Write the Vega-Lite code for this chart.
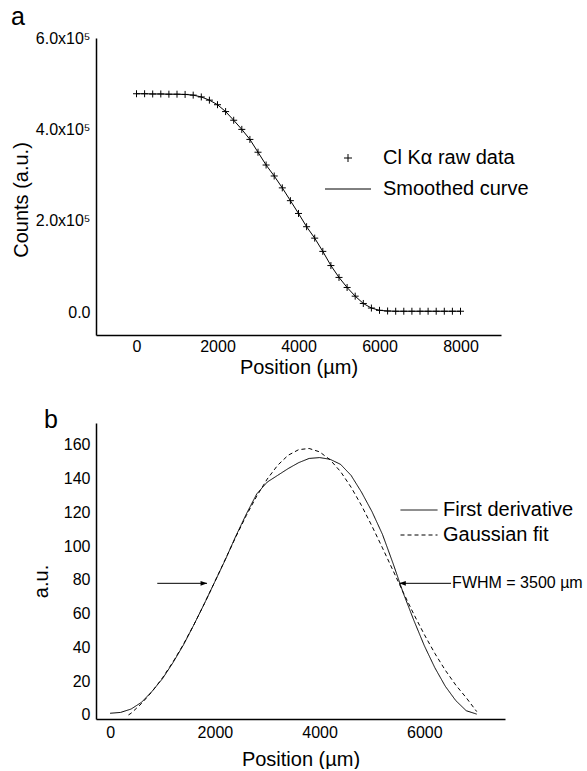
{
  "$schema": "https://vega.github.io/schema/vega-lite/v6.json",
  "padding": {"left": 11, "top": 5, "right": 0, "bottom": 0},
  "background": "white",
  "config": {
    "font": "Liberation Sans",
    "view": {"stroke": null},
    "axis": {"domainColor": "black", "domainWidth": 1.5, "ticks": false, "grid": false, "labelFontSize": 16, "labelColor": "black", "titleFontSize": 20, "titleFontWeight": "normal", "titleColor": "black", "labelFont": "Liberation Sans", "titleFont": "Liberation Sans", "labelOverlap": false, "format": "d"},
    "legend": {"labelFontSize": 20, "labelColor": "black", "labelFont": "Liberation Sans"},
    "title": {"fontSize": 25, "fontWeight": "normal", "anchor": "start", "color": "black", "font": "Liberation Sans"},
    "concat": {"spacing": 31}
  },
  "resolve": {"legend": {"shape": "independent", "strokeDash": "independent"}},
  "datasets": {
    "counts": [
      {"pos": 0, "counts": 478000, "series": "Cl Kα raw data"},
      {"pos": 200, "counts": 478000, "series": "Cl Kα raw data"},
      {"pos": 400, "counts": 477500, "series": "Cl Kα raw data"},
      {"pos": 600, "counts": 477500, "series": "Cl Kα raw data"},
      {"pos": 800, "counts": 477000, "series": "Cl Kα raw data"},
      {"pos": 1000, "counts": 477000, "series": "Cl Kα raw data"},
      {"pos": 1200, "counts": 476500, "series": "Cl Kα raw data"},
      {"pos": 1400, "counts": 475000, "series": "Cl Kα raw data"},
      {"pos": 1600, "counts": 471000, "series": "Cl Kα raw data"},
      {"pos": 1800, "counts": 464000, "series": "Cl Kα raw data"},
      {"pos": 2000, "counts": 454000, "series": "Cl Kα raw data"},
      {"pos": 2200, "counts": 439000, "series": "Cl Kα raw data"},
      {"pos": 2400, "counts": 420000, "series": "Cl Kα raw data"},
      {"pos": 2600, "counts": 400000, "series": "Cl Kα raw data"},
      {"pos": 2800, "counts": 378000, "series": "Cl Kα raw data"},
      {"pos": 3000, "counts": 350000, "series": "Cl Kα raw data"},
      {"pos": 3200, "counts": 322000, "series": "Cl Kα raw data"},
      {"pos": 3400, "counts": 298000, "series": "Cl Kα raw data"},
      {"pos": 3600, "counts": 272000, "series": "Cl Kα raw data"},
      {"pos": 3800, "counts": 244000, "series": "Cl Kα raw data"},
      {"pos": 4000, "counts": 216000, "series": "Cl Kα raw data"},
      {"pos": 4200, "counts": 187000, "series": "Cl Kα raw data"},
      {"pos": 4400, "counts": 162000, "series": "Cl Kα raw data"},
      {"pos": 4600, "counts": 133000, "series": "Cl Kα raw data"},
      {"pos": 4800, "counts": 102000, "series": "Cl Kα raw data"},
      {"pos": 5000, "counts": 76000, "series": "Cl Kα raw data"},
      {"pos": 5200, "counts": 54000, "series": "Cl Kα raw data"},
      {"pos": 5400, "counts": 35000, "series": "Cl Kα raw data"},
      {"pos": 5600, "counts": 19000, "series": "Cl Kα raw data"},
      {"pos": 5800, "counts": 9000, "series": "Cl Kα raw data"},
      {"pos": 6000, "counts": 4000, "series": "Cl Kα raw data"},
      {"pos": 6200, "counts": 2500, "series": "Cl Kα raw data"},
      {"pos": 6400, "counts": 2000, "series": "Cl Kα raw data"},
      {"pos": 6600, "counts": 2000, "series": "Cl Kα raw data"},
      {"pos": 6800, "counts": 2000, "series": "Cl Kα raw data"},
      {"pos": 7000, "counts": 2000, "series": "Cl Kα raw data"},
      {"pos": 7200, "counts": 2000, "series": "Cl Kα raw data"},
      {"pos": 7400, "counts": 2000, "series": "Cl Kα raw data"},
      {"pos": 7600, "counts": 2000, "series": "Cl Kα raw data"},
      {"pos": 7800, "counts": 2000, "series": "Cl Kα raw data"},
      {"pos": 8000, "counts": 2000, "series": "Cl Kα raw data"}
    ],
    "deriv": [
      {"pos": 0, "val": 1, "series": "First derivative"},
      {"pos": 200, "val": 1.5, "series": "First derivative"},
      {"pos": 400, "val": 3.5, "series": "First derivative"},
      {"pos": 600, "val": 7.5, "series": "First derivative"},
      {"pos": 800, "val": 14, "series": "First derivative"},
      {"pos": 1000, "val": 21.5, "series": "First derivative"},
      {"pos": 1200, "val": 31, "series": "First derivative"},
      {"pos": 1400, "val": 41.5, "series": "First derivative"},
      {"pos": 1600, "val": 53.5, "series": "First derivative"},
      {"pos": 1800, "val": 66, "series": "First derivative"},
      {"pos": 2000, "val": 79, "series": "First derivative"},
      {"pos": 2200, "val": 92, "series": "First derivative"},
      {"pos": 2400, "val": 106, "series": "First derivative"},
      {"pos": 2600, "val": 119, "series": "First derivative"},
      {"pos": 2800, "val": 131, "series": "First derivative"},
      {"pos": 3000, "val": 138, "series": "First derivative"},
      {"pos": 3200, "val": 142, "series": "First derivative"},
      {"pos": 3400, "val": 146, "series": "First derivative"},
      {"pos": 3600, "val": 149.5, "series": "First derivative"},
      {"pos": 3800, "val": 152, "series": "First derivative"},
      {"pos": 4000, "val": 152.5, "series": "First derivative"},
      {"pos": 4200, "val": 151.5, "series": "First derivative"},
      {"pos": 4400, "val": 148.5, "series": "First derivative"},
      {"pos": 4600, "val": 142, "series": "First derivative"},
      {"pos": 4800, "val": 132, "series": "First derivative"},
      {"pos": 5000, "val": 120.5, "series": "First derivative"},
      {"pos": 5200, "val": 107, "series": "First derivative"},
      {"pos": 5400, "val": 90, "series": "First derivative"},
      {"pos": 5600, "val": 72, "series": "First derivative"},
      {"pos": 5800, "val": 56, "series": "First derivative"},
      {"pos": 6000, "val": 41, "series": "First derivative"},
      {"pos": 6200, "val": 28, "series": "First derivative"},
      {"pos": 6400, "val": 17, "series": "First derivative"},
      {"pos": 6600, "val": 8.5, "series": "First derivative"},
      {"pos": 6800, "val": 2.5, "series": "First derivative"},
      {"pos": 7000, "val": 0.5, "series": "First derivative"},
      {"pos": 350, "val": 0, "series": "Gaussian fit"},
      {"pos": 400, "val": 1, "series": "Gaussian fit"},
      {"pos": 600, "val": 6.8, "series": "Gaussian fit"},
      {"pos": 800, "val": 13.8, "series": "Gaussian fit"},
      {"pos": 1000, "val": 22, "series": "Gaussian fit"},
      {"pos": 1200, "val": 31.4, "series": "Gaussian fit"},
      {"pos": 1400, "val": 41.9, "series": "Gaussian fit"},
      {"pos": 1600, "val": 53.5, "series": "Gaussian fit"},
      {"pos": 1800, "val": 66, "series": "Gaussian fit"},
      {"pos": 2000, "val": 79, "series": "Gaussian fit"},
      {"pos": 2200, "val": 92.3, "series": "Gaussian fit"},
      {"pos": 2400, "val": 105.5, "series": "Gaussian fit"},
      {"pos": 2600, "val": 118.2, "series": "Gaussian fit"},
      {"pos": 2800, "val": 129.7, "series": "Gaussian fit"},
      {"pos": 3000, "val": 139.8, "series": "Gaussian fit"},
      {"pos": 3200, "val": 148, "series": "Gaussian fit"},
      {"pos": 3400, "val": 153.9, "series": "Gaussian fit"},
      {"pos": 3600, "val": 157.2, "series": "Gaussian fit"},
      {"pos": 3800, "val": 157.9, "series": "Gaussian fit"},
      {"pos": 4000, "val": 155.9, "series": "Gaussian fit"},
      {"pos": 4200, "val": 151.2, "series": "Gaussian fit"},
      {"pos": 4400, "val": 144.2, "series": "Gaussian fit"},
      {"pos": 4600, "val": 135, "series": "Gaussian fit"},
      {"pos": 4800, "val": 124.1, "series": "Gaussian fit"},
      {"pos": 5000, "val": 111.9, "series": "Gaussian fit"},
      {"pos": 5200, "val": 99, "series": "Gaussian fit"},
      {"pos": 5400, "val": 85.7, "series": "Gaussian fit"},
      {"pos": 5600, "val": 72.4, "series": "Gaussian fit"},
      {"pos": 5800, "val": 59.6, "series": "Gaussian fit"},
      {"pos": 6000, "val": 47.6, "series": "Gaussian fit"},
      {"pos": 6200, "val": 36.5, "series": "Gaussian fit"},
      {"pos": 6400, "val": 26.5, "series": "Gaussian fit"},
      {"pos": 6600, "val": 17.7, "series": "Gaussian fit"},
      {"pos": 6800, "val": 10.2, "series": "Gaussian fit"},
      {"pos": 7000, "val": 2, "series": "Gaussian fit"}
    ],
    "arrows": [
      {"from": 900, "to": 1850, "head": 1790, "val": 78, "dir": "right"},
      {"from": 6510, "to": 5520, "head": 5583, "val": 78, "dir": "left"}
    ],
    "note": [
      {"pos": 6530, "val": 78, "label": "FWHM = 3500 µm"}
    ]
  },
  "vconcat": [
    {
      "width": 405,
      "height": 297,
      "title": {"text": "a", "frame": "group", "dx": -85, "offset": 0},
      "layer": [
        {
          "data": {"name": "counts"},
          "mark": {"type": "line", "color": "black", "strokeWidth": 1},
          "encoding": {
            "x": {"field": "pos", "type": "quantitative", "scale": {"domain": [-1000, 9000], "nice": false, "zero": false}, "axis": {"values": [0, 2000, 4000, 6000, 8000], "tickCount": 20, "title": "Position (µm)", "labelPadding": 3, "titlePadding": 3, "labelOverlap": false}},
            "y": {"field": "counts", "type": "quantitative", "scale": {"domain": [-50000, 600000], "nice": false, "zero": false}, "axis": {"values": [0, 200000, 400000, 600000], "tickCount": 20, "title": "Counts (a.u.)", "labelPadding": 6, "titlePadding": 4, "titleY": 161.5, "labelOverlap": false, "labelExpr": "datum.value == 0 ? '0.0' : format(datum.value / 100000, '.1f') + 'x10⁵'"}}
          }
        },
        {
          "data": {"name": "counts"},
          "mark": {"type": "point", "filled": false, "color": "black", "strokeWidth": 1, "size": 49, "opacity": 1},
          "encoding": {
            "x": {"field": "pos", "type": "quantitative"},
            "y": {"field": "counts", "type": "quantitative"},
            "shape": {"field": "series", "type": "nominal", "scale": {"domain": ["Cl Kα raw data", "Smoothed curve"], "range": ["M-1,0L1,0M0,-1L0,1", "M-5.75,0L5.75,0"]}, "legend": {"title": null, "orient": "none", "legendX": 242, "legendY": 110, "symbolSize": 64, "symbolStrokeColor": "black", "symbolFillColor": "transparent", "symbolStrokeWidth": 1, "symbolOpacity": 1, "labelOffset": 25, "rowPadding": 11, "padding": 0}}
          }
        }
      ]
    },
    {
      "width": 409,
      "height": 296,
      "title": {"text": "b", "frame": "group", "dx": -52, "offset": -10},
      "layer": [
        {
          "data": {"name": "deriv"},
          "mark": {"type": "line", "color": "black", "strokeWidth": 1},
          "encoding": {
            "x": {"field": "pos", "type": "quantitative", "scale": {"domain": [-270, 7540], "nice": false, "zero": false}, "axis": {"values": [0, 2000, 4000, 6000], "tickCount": 20, "title": "Position (µm)", "labelPadding": 5, "titlePadding": 9, "labelOverlap": false}},
            "y": {"field": "val", "type": "quantitative", "scale": {"domain": [-2.4, 173], "nice": false, "zero": false}, "axis": {"values": [0, 20, 40, 60, 80, 100, 120, 140, 160], "tickCount": 20, "title": "a.u.", "labelPadding": 6, "titlePadding": 12, "titleY": 158, "labelOverlap": false}},
            "strokeDash": {"field": "series", "type": "nominal", "scale": {"domain": ["First derivative", "Gaussian fit"], "range": [[1, 0], [4, 3]]}, "legend": {"title": null, "orient": "none", "legendX": 313, "legendY": 77, "symbolType": "M-3.7,0L3.7,0", "symbolSize": 100, "symbolStrokeColor": "black", "symbolFillColor": "transparent", "symbolStrokeWidth": 1, "labelOffset": 14, "rowPadding": 5, "padding": 0}}
          }
        },
        {
          "data": {"name": "arrows"},
          "mark": {"type": "rule", "color": "black", "strokeWidth": 1},
          "encoding": {
            "x": {"field": "from", "type": "quantitative"},
            "x2": {"field": "to"},
            "y": {"field": "val", "type": "quantitative"}
          }
        },
        {
          "data": {"name": "arrows"},
          "transform": [{"filter": "datum.dir == 'right'"}],
          "mark": {"type": "point", "shape": "M-1,-0.7L1,0L-1,0.7Z", "filled": true, "color": "black", "size": 44, "opacity": 1},
          "encoding": {
            "x": {"field": "head", "type": "quantitative"},
            "y": {"field": "val", "type": "quantitative"}
          }
        },
        {
          "data": {"name": "arrows"},
          "transform": [{"filter": "datum.dir == 'left'"}],
          "mark": {"type": "point", "shape": "M1,-0.7L-1,0L1,0.7Z", "filled": true, "color": "black", "size": 44, "opacity": 1},
          "encoding": {
            "x": {"field": "head", "type": "quantitative"},
            "y": {"field": "val", "type": "quantitative"}
          }
        },
        {
          "data": {"name": "note"},
          "mark": {"type": "text", "align": "left", "baseline": "middle", "fontSize": 16, "color": "black", "font": "Liberation Sans"},
          "encoding": {
            "x": {"field": "pos", "type": "quantitative"},
            "y": {"field": "val", "type": "quantitative"},
            "text": {"field": "label"}
          }
        }
      ]
    }
  ]
}
